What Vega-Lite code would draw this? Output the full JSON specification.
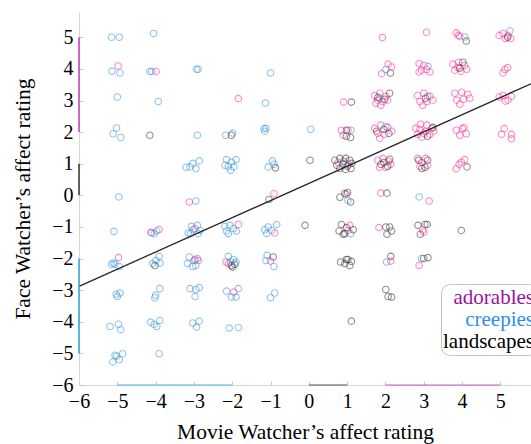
{
"$schema": "https://vega.github.io/schema/vega-lite/v6.json",
"width": 452, "height": 373,
"autosize": {"type": "none"},
"padding": {"left": 79, "top": 12, "right": 0, "bottom": 59},
"config": {"font": "Liberation Serif", "view": {"stroke": null},
  "axis": {"grid": false, "domainColor": "#d6d6d6", "tickColor": "#c8c8c8", "tickSize": -4, "labelFontSize": 20, "labelColor": "#000", "titleFontSize": 21.5, "titleFontWeight": "normal", "titleColor": "#000", "labelFont": "Liberation Serif", "titleFont": "Liberation Serif", "labelOverlap": false, "labelFlush": false}},
"datasets": {
"points": [
{"cat":"creepies","movie":-5.15,"face":5.0},{"cat":"creepies","movie":-4.95,"face":5.0},{"cat":"adorables","movie":-4.98,"face":4.09},{"cat":"creepies","movie":-5.14,"face":3.93},{"cat":"creepies","movie":-4.93,"face":3.87},{"cat":"creepies","movie":-5.0,"face":3.11},{"cat":"creepies","movie":-5.02,"face":2.13},{"cat":"creepies","movie":-5.11,"face":1.95},{"cat":"creepies","movie":-4.91,"face":1.83},{"cat":"creepies","movie":-4.96,"face":-0.05},{"cat":"creepies","movie":-5.09,"face":-1.14},{"cat":"adorables","movie":-4.97,"face":-1.97},{"cat":"creepies","movie":-5.15,"face":-2.18},{"cat":"creepies","movie":-5.06,"face":-2.18},{"cat":"creepies","movie":-4.95,"face":-2.25},{"cat":"creepies","movie":-5.1,"face":-2.14},{"cat":"creepies","movie":-4.93,"face":-3.09},{"cat":"creepies","movie":-5.0,"face":-3.2},{"cat":"creepies","movie":-5.03,"face":-3.13},{"cat":"creepies","movie":-5.19,"face":-4.15},{"cat":"creepies","movie":-4.97,"face":-4.08},{"cat":"creepies","movie":-4.91,"face":-4.25},{"cat":"creepies","movie":-5.06,"face":-5.06},{"cat":"creepies","movie":-4.86,"face":-5.01},{"cat":"creepies","movie":-5.12,"face":-5.27},{"cat":"creepies","movie":-4.95,"face":-5.2},{"cat":"creepies","movie":-5.02,"face":-5.09},
{"cat":"creepies","movie":-4.05,"face":5.12},{"cat":"creepies","movie":-4.15,"face":3.92},{"cat":"creepies","movie":-4.1,"face":3.92},{"cat":"adorables","movie":-3.99,"face":3.92},{"cat":"creepies","movie":-3.93,"face":2.97},{"cat":"landscapes","movie":-4.15,"face":1.9},{"cat":"creepies","movie":-4.1,"face":-1.18},{"cat":"adorables","movie":-3.91,"face":-1.08},{"cat":"creepies","movie":-3.97,"face":-1.13},{"cat":"creepies","movie":-4.04,"face":-1.21},{"cat":"adorables","movie":-4.13,"face":-1.18},{"cat":"creepies","movie":-3.91,"face":-1.93},{"cat":"creepies","movie":-3.99,"face":-2.06},{"cat":"creepies","movie":-4.08,"face":-2.16},{"cat":"creepies","movie":-3.89,"face":-2.14},{"cat":"landscapes","movie":-4.02,"face":-2.22},{"cat":"creepies","movie":-3.89,"face":-2.95},{"cat":"creepies","movie":-4.02,"face":-3.24},{"cat":"creepies","movie":-4.0,"face":-3.16},{"cat":"creepies","movie":-4.13,"face":-4.01},{"cat":"creepies","movie":-3.97,"face":-4.15},{"cat":"creepies","movie":-3.89,"face":-3.96},{"cat":"creepies","movie":-4.04,"face":-4.08},{"cat":"creepies","movie":-3.91,"face":-5.01},
{"cat":"creepies","movie":-2.93,"face":3.99},{"cat":"creepies","movie":-2.89,"face":3.99},{"cat":"creepies","movie":-2.91,"face":1.9},{"cat":"creepies","movie":-3.1,"face":0.9},{"cat":"creepies","movie":-3.03,"face":1.01},{"cat":"creepies","movie":-2.95,"face":0.85},{"cat":"creepies","movie":-2.86,"face":1.09},{"cat":"creepies","movie":-3.2,"face":0.89},{"cat":"adorables","movie":-3.12,"face":-0.21},{"cat":"creepies","movie":-2.95,"face":-0.18},{"cat":"creepies","movie":-3.06,"face":-0.98},{"cat":"creepies","movie":-2.91,"face":-0.95},{"cat":"creepies","movie":-3.15,"face":-1.19},{"cat":"creepies","movie":-3.02,"face":-1.09},{"cat":"creepies","movie":-2.89,"face":-1.21},{"cat":"adorables","movie":-2.97,"face":-1.05},{"cat":"creepies","movie":-2.84,"face":-1.11},{"cat":"creepies","movie":-3.09,"face":-1.21},{"cat":"creepies","movie":-3.12,"face":-1.95},{"cat":"creepies","movie":-3.0,"face":-2.06},{"cat":"creepies","movie":-2.91,"face":-2.0},{"cat":"adorables","movie":-2.97,"face":-2.03},{"cat":"adorables","movie":-2.89,"face":-2.06},{"cat":"creepies","movie":-3.17,"face":-2.16},{"cat":"creepies","movie":-2.95,"face":-2.22},{"cat":"creepies","movie":-3.03,"face":-2.25},{"cat":"creepies","movie":-3.1,"face":-2.95},{"cat":"creepies","movie":-2.95,"face":-2.98},{"cat":"creepies","movie":-2.86,"face":-2.92},{"cat":"creepies","movie":-2.97,"face":-3.2},{"cat":"creepies","movie":-3.03,"face":-4.04},{"cat":"creepies","movie":-2.86,"face":-3.98},{"cat":"creepies","movie":-2.93,"face":-4.17},
{"cat":"adorables","movie":-1.84,"face":3.06},{"cat":"creepies","movie":-2.17,"face":1.9},{"cat":"landscapes","movie":-2.02,"face":1.9},{"cat":"creepies","movie":-1.99,"face":1.97},{"cat":"creepies","movie":-2.15,"face":1.13},{"cat":"creepies","movie":-1.9,"face":1.13},{"cat":"creepies","movie":-2.19,"face":0.95},{"cat":"creepies","movie":-2.1,"face":0.92},{"cat":"creepies","movie":-2.02,"face":1.05},{"cat":"creepies","movie":-1.96,"face":0.9},{"cat":"creepies","movie":-2.04,"face":0.79},{"cat":"creepies","movie":-2.19,"face":-0.98},{"cat":"creepies","movie":-2.06,"face":-0.95},{"cat":"creepies","movie":-1.97,"face":-1.05},{"cat":"creepies","movie":-2.15,"face":-1.13},{"cat":"creepies","movie":-1.89,"face":-1.13},{"cat":"adorables","movie":-1.84,"face":-0.92},{"cat":"creepies","movie":-2.1,"face":-1.21},{"cat":"adorables","movie":-2.16,"face":-2.11},{"cat":"adorables","movie":-2.1,"face":-2.16},{"cat":"creepies","movie":-2.1,"face":-1.93},{"cat":"creepies","movie":-1.97,"face":-2.03},{"cat":"landscapes","movie":-2.02,"face":-2.22},{"cat":"landscapes","movie":-1.93,"face":-2.18},{"cat":"creepies","movie":-2.04,"face":-2.11},{"cat":"landscapes","movie":-1.99,"face":-2.27},{"cat":"creepies","movie":-1.9,"face":-2.11},{"cat":"creepies","movie":-2.15,"face":-3.03},{"cat":"creepies","movie":-1.84,"face":-2.95},{"cat":"adorables","movie":-1.96,"face":-3.06},{"cat":"creepies","movie":-2.02,"face":-3.22},{"cat":"creepies","movie":-1.9,"face":-3.22},{"cat":"creepies","movie":-2.08,"face":-4.2},{"cat":"creepies","movie":-1.84,"face":-4.18},
{"cat":"creepies","movie":-1.0,"face":3.87},{"cat":"creepies","movie":-1.13,"face":2.92},{"cat":"creepies","movie":-1.17,"face":2.11},{"cat":"creepies","movie":-1.15,"face":2.03},{"cat":"creepies","movie":-1.12,"face":2.12},{"cat":"creepies","movie":-0.95,"face":1.09},{"cat":"creepies","movie":-1.06,"face":0.9},{"cat":"creepies","movie":-0.91,"face":0.98},{"cat":"landscapes","movie":-0.87,"face":0.87},{"cat":"adorables","movie":-0.91,"face":0.05},{"cat":"landscapes","movie":-1.04,"face":-0.13},{"cat":"creepies","movie":-1.15,"face":-1.09},{"cat":"creepies","movie":-1.06,"face":-1.0},{"cat":"creepies","movie":-0.84,"face":-0.92},{"cat":"creepies","movie":-1.1,"face":-1.21},{"cat":"adorables","movie":-0.89,"face":-1.19},{"cat":"creepies","movie":-0.97,"face":-1.11},{"cat":"creepies","movie":-1.09,"face":-1.9},{"cat":"creepies","movie":-1.12,"face":-2.06},{"cat":"adorables","movie":-1.0,"face":-2.08},{"cat":"landscapes","movie":-0.93,"face":-1.95},{"cat":"creepies","movie":-0.91,"face":-2.25},{"cat":"creepies","movie":-0.89,"face":-3.09},{"cat":"creepies","movie":-1.0,"face":-3.24},
{"cat":"creepies","movie":0.05,"face":2.09},{"cat":"landscapes","movie":0.03,"face":1.11},{"cat":"landscapes","movie":-0.1,"face":-0.95},
{"cat":"adorables","movie":0.91,"face":2.95},{"cat":"landscapes","movie":1.11,"face":2.95},{"cat":"adorables","movie":0.85,"face":2.06},{"cat":"landscapes","movie":0.98,"face":2.06},{"cat":"creepies","movie":1.1,"face":2.06},{"cat":"adorables","movie":0.9,"face":1.9},{"cat":"landscapes","movie":1.09,"face":1.83},{"cat":"landscapes","movie":0.98,"face":1.87},{"cat":"adorables","movie":1.02,"face":2.06},
{"cat":"landscapes","movie":0.68,"face":1.11},{"cat":"landscapes","movie":0.81,"face":1.17},{"cat":"landscapes","movie":0.96,"face":1.17},{"cat":"landscapes","movie":1.07,"face":1.11},{"cat":"landscapes","movie":0.73,"face":0.95},{"cat":"landscapes","movie":0.89,"face":0.98},{"cat":"landscapes","movie":1.01,"face":0.92},{"cat":"landscapes","movie":1.12,"face":1.01},{"cat":"landscapes","movie":0.81,"face":0.85},{"cat":"landscapes","movie":0.96,"face":0.82},{"cat":"landscapes","movie":1.1,"face":0.85},{"cat":"landscapes","movie":0.91,"face":1.08},{"cat":"adorables","movie":0.76,"face":1.04},{"cat":"adorables","movie":1.04,"face":0.98},{"cat":"creepies","movie":0.96,"face":1.01},
{"cat":"landscapes","movie":0.94,"face":0.06},{"cat":"landscapes","movie":1.09,"face":-0.21},{"cat":"creepies","movie":1.02,"face":-0.16},{"cat":"adorables","movie":0.98,"face":0.03},{"cat":"landscapes","movie":0.81,"face":-0.06},{"cat":"landscapes","movie":1.01,"face":0.09},
{"cat":"landscapes","movie":0.85,"face":-0.92},{"cat":"landscapes","movie":0.79,"face":-1.13},{"cat":"landscapes","movie":0.9,"face":-1.23},{"cat":"adorables","movie":1.07,"face":-0.95},{"cat":"creepies","movie":1.09,"face":-1.21},{"cat":"landscapes","movie":1.16,"face":-1.09},{"cat":"adorables","movie":1.02,"face":-1.11},{"cat":"landscapes","movie":0.98,"face":-1.02},{"cat":"landscapes","movie":0.94,"face":-1.21},
{"cat":"landscapes","movie":0.83,"face":-2.11},{"cat":"landscapes","movie":0.98,"face":-2.03},{"cat":"landscapes","movie":1.07,"face":-2.22},{"cat":"landscapes","movie":0.94,"face":-2.16},{"cat":"landscapes","movie":1.11,"face":-2.09},{"cat":"landscapes","movie":1.02,"face":-2.03},{"cat":"landscapes","movie":1.11,"face":-3.98},
{"cat":"adorables","movie":1.92,"face":4.99},{"cat":"adorables","movie":1.9,"face":3.85},{"cat":"adorables","movie":2.07,"face":4.15},{"cat":"creepies","movie":2.01,"face":3.98},{"cat":"landscapes","movie":2.13,"face":3.87},{"cat":"adorables","movie":2.16,"face":4.06},
{"cat":"adorables","movie":1.72,"face":3.16},{"cat":"adorables","movie":1.85,"face":3.23},{"cat":"adorables","movie":2.01,"face":3.13},{"cat":"adorables","movie":1.8,"face":3.01},{"cat":"adorables","movie":1.93,"face":2.97},{"cat":"adorables","movie":2.06,"face":3.01},{"cat":"adorables","movie":1.88,"face":2.85},{"cat":"adorables","movie":1.75,"face":2.91},{"cat":"landscapes","movie":2.11,"face":3.23},{"cat":"landscapes","movie":1.98,"face":3.04},{"cat":"landscapes","movie":1.8,"face":3.1},{"cat":"creepies","movie":1.85,"face":3.07},
{"cat":"adorables","movie":1.72,"face":2.12},{"cat":"adorables","movie":1.88,"face":2.22},{"cat":"adorables","movie":2.06,"face":2.15},{"cat":"adorables","movie":1.8,"face":1.96},{"cat":"adorables","movie":1.98,"face":1.93},{"cat":"adorables","movie":2.17,"face":2.03},{"cat":"adorables","movie":1.85,"face":1.8},{"cat":"landscapes","movie":1.96,"face":2.09},{"cat":"landscapes","movie":2.09,"face":1.96},{"cat":"landscapes","movie":1.77,"face":2.03},{"cat":"creepies","movie":2.01,"face":2.18},
{"cat":"adorables","movie":1.8,"face":1.11},{"cat":"adorables","movie":1.93,"face":1.17},{"cat":"adorables","movie":2.09,"face":1.08},{"cat":"adorables","movie":1.85,"face":0.89},{"cat":"adorables","movie":2.01,"face":0.89},{"cat":"adorables","movie":2.14,"face":0.98},{"cat":"landscapes","movie":1.96,"face":1.04},{"cat":"landscapes","movie":2.06,"face":0.92},{"cat":"landscapes","movie":1.88,"face":0.98},{"cat":"landscapes","movie":2.11,"face":1.14},
{"cat":"adorables","movie":1.88,"face":0.07},{"cat":"landscapes","movie":2.04,"face":0.07},
{"cat":"adorables","movie":1.83,"face":-1.02},{"cat":"landscapes","movie":2.01,"face":-1.0},{"cat":"landscapes","movie":2.11,"face":-1.0},{"cat":"landscapes","movie":2.04,"face":-1.23},{"cat":"landscapes","movie":2.16,"face":-1.13},
{"cat":"landscapes","movie":2.14,"face":-1.93},{"cat":"adorables","movie":2.14,"face":-2.08},{"cat":"creepies","movie":2.03,"face":-2.11},
{"cat":"landscapes","movie":2.01,"face":-2.98},{"cat":"landscapes","movie":2.07,"face":-3.2},{"cat":"landscapes","movie":2.16,"face":-3.22},
{"cat":"adorables","movie":3.07,"face":5.16},
{"cat":"adorables","movie":2.88,"face":4.17},{"cat":"adorables","movie":2.94,"face":3.96},{"cat":"adorables","movie":3.07,"face":3.98},{"cat":"creepies","movie":3.11,"face":4.08},{"cat":"adorables","movie":3.0,"face":4.11},{"cat":"adorables","movie":3.16,"face":3.9},{"cat":"adorables","movie":2.88,"face":3.9},
{"cat":"adorables","movie":2.84,"face":3.16},{"cat":"adorables","movie":3.0,"face":3.23},{"cat":"adorables","movie":3.16,"face":3.13},{"cat":"adorables","movie":2.9,"face":2.97},{"cat":"adorables","movie":3.08,"face":2.97},{"cat":"adorables","movie":3.24,"face":3.01},{"cat":"adorables","movie":2.97,"face":2.85},{"cat":"creepies","movie":3.1,"face":3.13},{"cat":"landscapes","movie":3.05,"face":3.07},
{"cat":"adorables","movie":2.79,"face":2.12},{"cat":"adorables","movie":2.92,"face":2.25},{"cat":"adorables","movie":3.08,"face":2.22},{"cat":"adorables","movie":3.21,"face":2.12},{"cat":"adorables","movie":2.84,"face":1.93},{"cat":"adorables","movie":3.0,"face":1.96},{"cat":"adorables","movie":3.16,"face":1.93},{"cat":"adorables","movie":2.9,"face":2.09},{"cat":"adorables","movie":3.05,"face":2.03},{"cat":"adorables","movie":3.26,"face":2.03},{"cat":"adorables","movie":2.95,"face":1.84},{"cat":"landscapes","movie":3.24,"face":2.15},{"cat":"landscapes","movie":3.1,"face":1.87},
{"cat":"adorables","movie":2.84,"face":1.17},{"cat":"adorables","movie":3.05,"face":1.17},{"cat":"adorables","movie":2.9,"face":0.92},{"cat":"adorables","movie":3.1,"face":0.95},{"cat":"adorables","movie":2.95,"face":1.04},{"cat":"landscapes","movie":2.87,"face":1.11},{"cat":"landscapes","movie":3.1,"face":1.11},{"cat":"landscapes","movie":3.03,"face":0.89},{"cat":"landscapes","movie":2.95,"face":0.85},
{"cat":"creepies","movie":2.88,"face":-0.05},{"cat":"adorables","movie":3.14,"face":-0.18},
{"cat":"landscapes","movie":2.85,"face":-0.95},{"cat":"landscapes","movie":3.03,"face":-0.92},{"cat":"adorables","movie":3.0,"face":-1.16},{"cat":"landscapes","movie":2.91,"face":-1.23},{"cat":"landscapes","movie":3.09,"face":-0.92},{"cat":"adorables","movie":2.97,"face":-1.09},
{"cat":"creepies","movie":2.94,"face":-2.0},{"cat":"landscapes","movie":3.0,"face":-2.0},{"cat":"landscapes","movie":3.11,"face":-1.97},{"cat":"adorables","movie":2.88,"face":-2.22},
{"cat":"adorables","movie":3.85,"face":5.14},{"cat":"adorables","movie":3.94,"face":5.03},{"cat":"creepies","movie":4.07,"face":5.01},{"cat":"landscapes","movie":4.11,"face":4.88},{"cat":"adorables","movie":3.9,"face":5.06},
{"cat":"adorables","movie":3.76,"face":4.15},{"cat":"adorables","movie":3.91,"face":4.21},{"cat":"adorables","movie":4.07,"face":4.11},{"cat":"adorables","movie":3.81,"face":3.96},{"cat":"adorables","movie":3.97,"face":3.92},{"cat":"adorables","movie":4.12,"face":3.99},{"cat":"adorables","movie":3.89,"face":4.05},{"cat":"landscapes","movie":4.02,"face":4.21},{"cat":"landscapes","movie":3.94,"face":4.02},
{"cat":"adorables","movie":3.81,"face":3.23},{"cat":"adorables","movie":3.99,"face":3.26},{"cat":"adorables","movie":4.15,"face":3.2},{"cat":"adorables","movie":3.86,"face":3.01},{"cat":"adorables","movie":4.04,"face":3.04},{"cat":"adorables","movie":4.2,"face":3.07},{"cat":"adorables","movie":3.94,"face":2.88},
{"cat":"adorables","movie":3.85,"face":2.06},{"cat":"adorables","movie":4.01,"face":2.11},{"cat":"adorables","movie":4.11,"face":1.95},{"cat":"adorables","movie":3.94,"face":1.9},{"cat":"adorables","movie":4.05,"face":2.14},
{"cat":"adorables","movie":3.85,"face":0.84},{"cat":"adorables","movie":3.98,"face":1.05},{"cat":"adorables","movie":4.07,"face":1.13},{"cat":"landscapes","movie":4.13,"face":0.9},{"cat":"adorables","movie":3.92,"face":0.98},
{"cat":"landscapes","movie":3.98,"face":-1.11},
{"cat":"adorables","movie":4.97,"face":5.06},{"cat":"adorables","movie":5.07,"face":5.12},{"cat":"adorables","movie":5.13,"face":4.96},{"cat":"creepies","movie":5.25,"face":5.2},{"cat":"adorables","movie":5.2,"face":5.06},{"cat":"adorables","movie":5.27,"face":4.96},{"cat":"landscapes","movie":5.19,"face":5.0},
{"cat":"adorables","movie":5.12,"face":3.98},{"cat":"adorables","movie":5.19,"face":4.04},{"cat":"adorables","movie":5.07,"face":3.87},
{"cat":"adorables","movie":4.97,"face":3.11},{"cat":"adorables","movie":5.07,"face":3.16},{"cat":"adorables","movie":5.2,"face":3.01},{"cat":"adorables","movie":5.29,"face":3.13},{"cat":"adorables","movie":5.13,"face":2.98},
{"cat":"adorables","movie":5.1,"face":2.11},{"cat":"adorables","movie":5.03,"face":1.93},{"cat":"adorables","movie":5.29,"face":1.93},{"cat":"adorables","movie":5.29,"face":1.79}
],
"fit": [{"movie": -6, "face": -2.88}, {"movie": 5.8, "face": 3.53}],
"frames": [
{"axis":"y","cat":"adorables","lo":2,"hi":5},{"axis":"y","cat":"landscapes","lo":0,"hi":1},{"axis":"y","cat":"creepies","lo":-5,"hi":-2},
{"axis":"x","cat":"creepies","lo":-5,"hi":-2},{"axis":"x","cat":"landscapes","lo":0,"hi":1},{"axis":"x","cat":"adorables","lo":2,"hi":5}
]
},
"layer": [
{"data": {"name": "points"},
 "mark": {"type": "point", "shape": "circle", "filled": false, "size": 42, "strokeWidth": 1.1, "opacity": 0.55},
 "encoding": {
  "x": {"field": "movie", "type": "quantitative", "scale": {"domain": [-6, 5.8], "nice": false, "zero": false},
        "axis": {"values": [-6,-5,-4,-3,-2,-1,0,1,2,3,4,5], "tickCount": 12, "title": "Movie Watcher’s affect rating", "labelPadding": 10, "titlePadding": 10, "labelOverlap": false, "labelFlush": false}},
  "y": {"field": "face", "type": "quantitative", "scale": {"domain": [-6, 5.8], "nice": false, "zero": false},
        "axis": {"values": [-6,-5,-4,-3,-2,-1,0,1,2,3,4,5], "tickCount": 12, "title": "Face Watcher’s affect rating", "labelPadding": 10, "titlePadding": 17, "labelOverlap": false, "labelFlush": false}},
  "stroke": {"field": "cat", "type": "nominal",
    "scale": {"domain": ["adorables", "creepies", "landscapes"], "range": ["#ff2a9d", "#3594d6", "#333333"]},
    "legend": {"title": null, "orient": "none", "legendX": 362, "legendY": 272,
      "symbolSize": 0, "symbolStrokeWidth": 0, "symbolOpacity": 0,
      "labelFontSize": 21, "labelFont": "Liberation Serif", "labelAlign": "right", "labelOffset": 69, "labelLimit": 300,
      "labelColor": {"expr": "datum.value === 'adorables' ? '#9c119c' : datum.value === 'creepies' ? '#2a8ff0' : '#000000'"},
      "rowPadding": 0, "padding": 3, "strokeColor": "#c4c4c4", "cornerRadius": 9, "fillColor": "white"}}
 }},
{"data": {"name": "fit"},
 "mark": {"type": "line", "color": "#262626", "strokeWidth": 1.3},
 "encoding": {
  "x": {"field": "movie", "type": "quantitative", "axis": {"values": [-6,-5,-4,-3,-2,-1,0,1,2,3,4,5], "tickCount": 12, "title": "Movie Watcher’s affect rating", "labelPadding": 10, "titlePadding": 10, "labelOverlap": false, "labelFlush": false}},
  "y": {"field": "face", "type": "quantitative", "axis": {"values": [-6,-5,-4,-3,-2,-1,0,1,2,3,4,5], "tickCount": 12, "title": "Face Watcher’s affect rating", "labelPadding": 10, "titlePadding": 17, "labelOverlap": false, "labelFlush": false}}}},
{"data": {"name": "frames"}, "transform": [{"filter": "datum.axis === 'y'"}],
 "mark": {"type": "rule", "strokeWidth": 1.5},
 "encoding": {"x": {"datum": -6, "type": "quantitative"},
   "y": {"field": "lo", "type": "quantitative", "axis": {"values": [-6,-5,-4,-3,-2,-1,0,1,2,3,4,5], "tickCount": 12, "title": "Face Watcher’s affect rating", "labelPadding": 10, "titlePadding": 17, "labelOverlap": false, "labelFlush": false}},
   "y2": {"field": "hi"},
   "color": {"field": "cat", "type": "nominal", "scale": {"domain": ["adorables", "creepies", "landscapes"], "range": ["#c23cc6", "#26a6dc", "#333333"]}, "legend": null}}},
{"data": {"name": "frames"}, "transform": [{"filter": "datum.axis === 'x'"}],
 "mark": {"type": "rule", "strokeWidth": 1.5, "opacity": 0.55},
 "encoding": {"y": {"datum": -6, "type": "quantitative"},
   "x": {"field": "lo", "type": "quantitative", "axis": {"values": [-6,-5,-4,-3,-2,-1,0,1,2,3,4,5], "tickCount": 12, "title": "Movie Watcher’s affect rating", "labelPadding": 10, "titlePadding": 10, "labelOverlap": false, "labelFlush": false}},
   "x2": {"field": "hi"},
   "color": {"field": "cat", "type": "nominal", "legend": null}}}
]
}
